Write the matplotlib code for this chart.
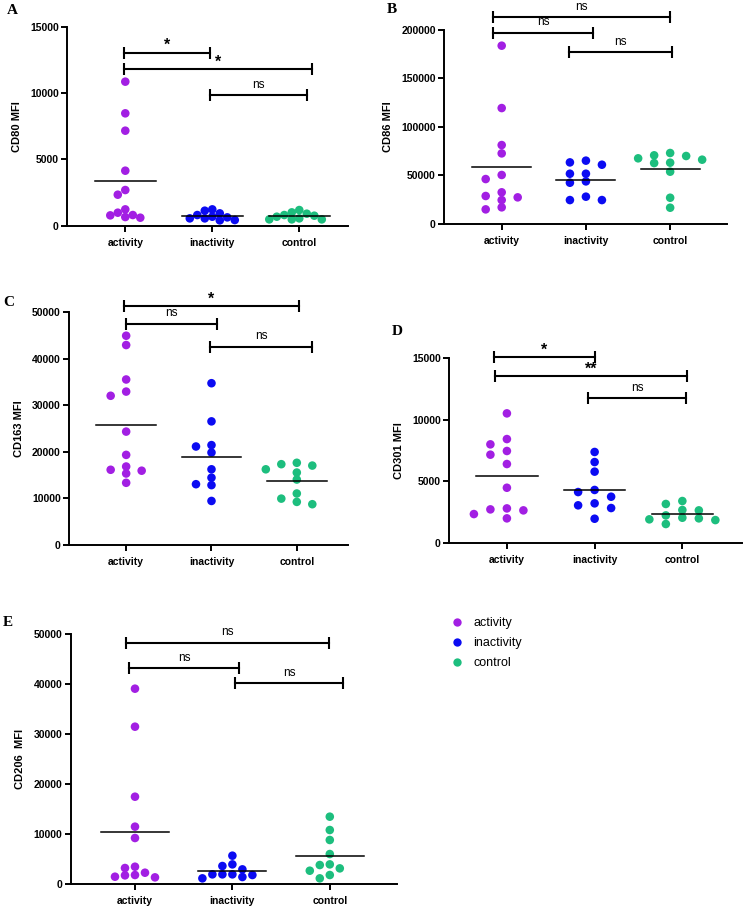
import matplotlib
matplotlib.use("Agg")
import matplotlib.pyplot as plt
from matplotlib.lines import Line2D
import numpy as np

plt.rcParams['font.family'] = ['Liberation Sans', 'DejaVu Sans']

W, H = 746, 911

groups = ['activity', 'inactivity', 'control']
colors = ['#A21FE3', '#0B0BF2', '#1DBE7E']

# values (MFI)
cd80_activity = [10857, 8470, 7162, 4146, 2689, 2337, 653, 980, 779, 804, 1231, 603]
cd80_inactivity = [1131, 553, 930, 628, 804, 1231, 427, 678, 402, 553]
cd80_control = [553, 1005, 754, 905, 477, 804, 477, 678, 1181, 477]

cd86_activity = [183800, 119400, 81200, 72600, 50300, 46100, 32400, 27200, 28600, 24400, 14800, 16900]
cd86_inactivity = [60900, 63300, 65100, 51600, 51600, 43700, 42300, 27900, 24400, 24400]
cd86_control = [69900, 66100, 62600, 73000, 63000, 67500, 70600, 53700, 26800, 16500]

cd163_activity = [44900, 42900, 35500, 32900, 32000, 24300, 19300, 16800, 15900, 15300, 16100, 13300]
cd163_inactivity = [34700, 26500, 21100, 21400, 19800, 16200, 14400, 12800, 13000, 9400]
cd163_control = [17000, 16200, 17600, 17300, 15500, 14000, 11000, 8700, 9200, 9900]

cd301_activity = [10520, 8430, 8000, 7460, 7160, 6400, 4470, 2630, 2790, 2330, 2710, 1980]
cd301_inactivity = [7380, 6560, 5780, 4120, 4290, 3740, 3200, 3040, 2820, 1950]
cd301_control = [3150, 3390, 2630, 2660, 1840, 2030, 1900, 1980, 2220, 1520]

cd206_activity = [39050, 31440, 17420, 11420, 9150, 3140, 3400, 2200, 1670, 1400, 1270, 1740]
cd206_inactivity = [5610, 3870, 3540, 2870, 1740, 1870, 1870, 1870, 1070, 1340]
cd206_control = [13420, 10750, 8750, 5940, 3070, 3740, 3870, 2600, 1740, 1070]

# significance brackets: (from, to, height, label)
brackets_a = [(-0.01, 0.97, 13040, '*'), (-0.01, 2.15, 11790, '*'), (0.97, 2.09, 9850, 'ns')]
brackets_b = [(-0.1, 2.0, 213000, 'ns'), (-0.1, 1.08, 197200, 'ns'), (0.8, 2.02, 176900, 'ns')]
brackets_c = [(-0.02, 2.02, 51290, '*'), (0.0, 1.06, 47490, 'ns'), (0.98, 2.18, 42550, 'ns')]
brackets_d = [(-0.15, 1.0, 15110, '*'), (-0.13, 2.05, 13560, '**'), (0.93, 2.04, 11740, 'ns')]
brackets_e = [(-0.09, 1.99, 48270, 'ns'), (-0.065, 1.07, 43130, 'ns'), (1.03, 2.14, 40120, 'ns')]


def rect(l, t, r, b):
    return [l / W, 1 - b / H, (r - l) / W, (b - t) / H]


def swarm(ax, vals, center, step_px, diam_px=6.8):
    # simple column beeswarm in pixel space
    to_px = ax.transData.transform
    ppx = to_px((1, 0))[0] - to_px((0, 0))[0]
    ys = [to_px((0, v))[1] for v in vals]
    cols = [0] * len(vals)
    placed = []
    for i in np.argsort(vals)[::-1]:
        for c in [0, -1, 1, -2, 2, -3, 3, -4, 4, -5, 5]:
            if all(pc != c or abs(py - ys[i]) >= diam_px for pc, py in placed):
                break
        placed.append((c, ys[i]))
        cols[i] = c
    return [center + c * step_px / ppx for c in cols]


def panel(fig, box, data, ylabel, ymax, ystep, xlim, brackets, step_px):
    ax = fig.add_axes(rect(*box))
    ax.set_xlim(*xlim)
    ax.set_ylim(0, ymax)
    ax.set_yticks(np.arange(0, ymax + 1, ystep))
    ax.set_xticks(range(3))
    ax.set_xticklabels(groups)
    for s in ['top', 'right']:
        ax.spines[s].set_visible(False)
    for s in ['left', 'bottom']:
        ax.spines[s].set_linewidth(1.4)
    ax.tick_params(direction='out', length=4, width=1.4, labelsize=7.5, pad=2)
    ax.tick_params(axis='x', pad=5)
    for lbl in ax.get_xticklabels() + ax.get_yticklabels():
        lbl.set_fontweight('bold')
    ax.set_ylabel(ylabel, fontsize=8, fontweight='bold', labelpad=6)

    for i, vals in enumerate(data):
        xs = swarm(ax, vals, i, step_px)
        ax.scatter(xs, vals, s=38, color=colors[i], edgecolors='none', zorder=3)
        m = np.mean(vals)
        ax.plot([i - 0.35, i + 0.35], [m, m], color='black', lw=1.1, zorder=4)

    for x1, x2, y, lab in brackets:
        ax.plot([x1, x2], [y, y], color='black', lw=1.5, clip_on=False,
                marker='|', markersize=9, markeredgewidth=1.5)
        if lab == 'ns':
            ax.annotate(lab, ((x1 + x2) / 2, y), xytext=(0, 7.5), textcoords='offset points',
                        ha='center', va='center', fontsize=8.5, annotation_clip=False)
        else:
            ax.annotate(lab, ((x1 + x2) / 2, y), xytext=(0, 5), textcoords='offset points',
                        ha='center', va='center', fontsize=11.5, fontweight='bold',
                        annotation_clip=False)
    return ax


fig = plt.figure(figsize=(W / 100, H / 100), dpi=100)

panel(fig, (67, 26.7, 348, 225.7), [cd80_activity, cd80_inactivity, cd80_control],
      'CD80 MFI', 15000, 5000, (-0.67, 2.56), brackets_a, 7.5)
panel(fig, (444, 30, 727, 223.7), [cd86_activity, cd86_inactivity, cd86_control],
      'CD86 MFI', 200000, 50000, (-0.685, 2.675), brackets_b, 16)
panel(fig, (69, 312, 348, 544.7), [cd163_activity, cd163_inactivity, cd163_control],
      'CD163 MFI', 50000, 10000, (-0.67, 2.6), brackets_c, 15.5)
panel(fig, (449, 358.3, 742, 542.7), [cd301_activity, cd301_inactivity, cd301_control],
      'CD301 MFI', 15000, 5000, (-0.66, 2.68), brackets_d, 16.5)
panel(fig, (70.7, 634, 397, 883.7), [cd206_activity, cd206_inactivity, cd206_control],
      'CD206  MFI', 50000, 10000, (-0.66, 2.69), brackets_e, 10)

for letter, (lx, ly) in zip('ABCDE', [(7, 4), (387, 3), (3, 296), (392, 325), (3, 616)]):
    fig.text(lx / W, 1 - ly / H, letter, family='Liberation Serif', fontweight='bold',
             fontsize=11, va='top', ha='left')

handles = [Line2D([], [], ls='none', marker='o', markersize=6, color=c, markeredgewidth=0)
           for c in colors]
fig.legend(handles, groups, loc='upper left', bbox_to_anchor=(451 / W, 1 - 617 / H),
           frameon=False, fontsize=9, handlelength=1, handletextpad=0.8,
           labelspacing=0.65, borderaxespad=0, borderpad=0)

fig.savefig('out.png', dpi=100)
